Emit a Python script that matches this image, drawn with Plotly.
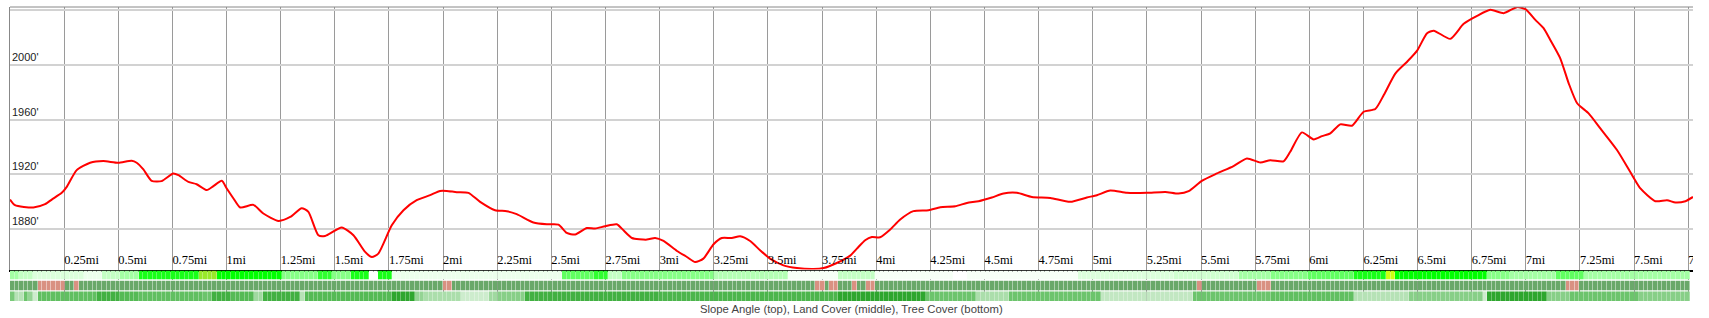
import numpy as np
import plotly.graph_objects as go

# ---------------- data ----------------
dist_mi = [0, 0.023, 0.108, 0.162, 0.193, 0.239, 0.262, 0.308, 0.370, 0.431,
           0.500, 0.562, 0.585, 0.616, 0.654, 0.700, 0.754, 0.778, 0.824, 0.862,
           0.909, 0.939, 0.978, 1.001, 1.032, 1.063, 1.124, 1.170, 1.240, 1.294,
           1.347, 1.378, 1.424, 1.455, 1.532, 1.586, 1.640, 1.671, 1.701, 1.763,
           1.817, 1.878, 1.940, 1.986, 2.017, 2.063, 2.117, 2.171, 2.240, 2.294,
           2.340, 2.417, 2.479, 2.533, 2.571, 2.610, 2.664, 2.702, 2.748, 2.802,
           2.833, 2.872, 2.941, 2.979, 3.018, 3.080, 3.126, 3.164, 3.202, 3.249,
           3.287, 3.333, 3.372, 3.418, 3.464, 3.510, 3.572, 3.634, 3.711, 3.757,
           3.818, 3.880, 3.911, 3.949, 3.980, 4.018, 4.065, 4.111, 4.172, 4.242,
           4.296, 4.365, 4.419, 4.473, 4.534, 4.588, 4.650, 4.719, 4.804, 4.896,
           4.973, 5.019, 5.081, 5.158, 5.250, 5.335, 5.396, 5.443, 5.504, 5.574,
           5.650, 5.712, 5.774, 5.820, 5.881, 5.912, 5.966, 6.020, 6.059, 6.097,
           6.143, 6.197, 6.251, 6.305, 6.344, 6.398, 6.452, 6.498, 6.544, 6.575,
           6.651, 6.713, 6.775, 6.836, 6.898, 6.959, 6.998, 7.044, 7.082, 7.113,
           7.159, 7.198, 7.237, 7.290, 7.344, 7.421, 7.491, 7.529, 7.598, 7.652,
           7.691, 7.737, 7.772]

elev_ft = [1901.5, 1897.4, 1895.7, 1898.1, 1901.5, 1906.4, 1910.8, 1923.0, 1928.4, 1929.6,
           1928.4, 1929.8, 1928.4, 1923.5, 1915.2, 1915.0, 1920.6, 1919.3, 1914.4, 1912.7,
           1908.4, 1911.3, 1915.2, 1909.6, 1902.3, 1895.7, 1897.6, 1891.3, 1885.9, 1888.8,
           1895.2, 1892.5, 1875.4, 1874.9, 1881.0, 1875.4, 1863.2, 1859.5, 1862.0, 1882.7,
           1893.7, 1901.0, 1904.7, 1907.8, 1907.8, 1906.9, 1906.4, 1899.8, 1893.7, 1893.0,
           1890.8, 1884.7, 1883.4, 1883.2, 1877.1, 1875.9, 1880.7, 1880.3, 1882.0, 1883.4,
           1879.0, 1873.4, 1872.2, 1873.4, 1871.2, 1863.9, 1859.5, 1855.8, 1858.3, 1868.8,
           1873.4, 1873.4, 1874.7, 1871.2, 1864.4, 1858.3, 1853.4, 1851.4, 1850.7, 1851.4,
           1855.1, 1860.5, 1865.6, 1871.7, 1874.1, 1873.9, 1879.6, 1886.9, 1893.0, 1893.7,
           1895.9, 1896.6, 1899.0, 1900.3, 1903.0, 1905.9, 1906.4, 1903.4, 1902.7, 1899.8,
           1903.0, 1904.7, 1908.1, 1906.4, 1906.4, 1907.1, 1905.9, 1907.6, 1915.2, 1920.6,
           1926.0, 1931.6, 1928.6, 1930.3, 1929.4, 1936.4, 1950.6, 1945.5, 1947.9, 1949.9,
           1956.5, 1955.5, 1965.7, 1967.7, 1977.9, 1993.8, 2002.3, 2010.4, 2023.1, 2025.0,
           2019.0, 2030.0, 2035.8, 2040.2, 2037.8, 2042.2, 2040.7, 2032.9, 2026.8, 2018.2,
           2004.8, 1986.5, 1971.9, 1964.5, 1953.5, 1937.7, 1919.3, 1909.6, 1900.3, 1901.0,
           1899.3, 1900.3, 1903.4]

x_tick_vals = [0.25, 0.5, 0.75, 1, 1.25, 1.5, 1.75, 2, 2.25, 2.5, 2.75, 3, 3.25, 3.5,
               3.75, 4, 4.25, 4.5, 4.75, 5, 5.25, 5.5, 5.75, 6, 6.25, 6.5, 6.75, 7,
               7.25, 7.5, 7.75]
x_tick_text = ["0.25mi", "0.5mi", "0.75mi", "1mi", "1.25mi", "1.5mi", "1.75mi", "2mi",
               "2.25mi", "2.5mi", "2.75mi", "3mi", "3.25mi", "3.5mi", "3.75mi", "4mi",
               "4.25mi", "4.5mi", "4.75mi", "5mi", "5.25mi", "5.5mi", "5.75mi", "6mi",
               "6.25mi", "6.5mi", "6.75mi", "7mi", "7.25mi", "7.5mi", "7.75mi"]
y_tick_vals = [1880, 1920, 1960, 2000]
y_tick_text = ["1880'", "1920'", "1960'", "2000'"]

# strips: run-length encoded cell values (level, number of cells)
slope_levels = [4, 3, 2, 1, 3, 4, 7.5, 9, 8, 5, 7, 5, 7.5, 0, 7.5, 1, 6, 7, 3, 5,
                3.5, 0.5, 3, 0.5, 0, 0.5, 2, 2.5, 4, 5, 6, 7.5, 10, 8, 5, 4, 6, 4]
slope_counts = [2, 3, 11, 4, 4, 4, 13, 4, 14, 8, 3, 4, 4, 2, 3, 37, 7, 3, 3, 20,
                16, 11, 8, 17, 3, 24, 21, 14, 7, 8, 10, 7, 2, 20, 5, 10, 6, 23]

land_levels = [0, 1, 0, 1, 0, 1, 0, 1, 0, 1, 0, 1, 0, 1, 0, 1, 0, 1, 0, 1, 0]
land_counts = [6, 6, 2, 1, 79, 2, 79, 2, 1, 2, 3, 1, 2, 2, 70, 1, 12, 3, 64, 3, 24]

tree_levels = [5.5, 3, 6, 4.5, 2, 6.5, 8, 7, 6.5, 6, 8, 7, 4, 8, 3, 7, 9, 4.5, 3.5, 2,
               4, 5, 8, 7.5, 9, 6, 3.5, 6, 2.5, 6, 6.5, 3, 5, 2, 9, 5, 6, 5]
tree_counts = [1, 2, 1, 1, 1, 13, 5, 4, 14, 2, 4, 5, 2, 8, 1, 19, 5, 2, 8, 6,
               2, 6, 29, 39, 19, 11, 7, 20, 20, 17, 18, 12, 16, 1, 13, 5, 15, 11]

strip_length_mi = 7.757

slope_z = np.repeat(slope_levels, slope_counts)
land_z = np.repeat(land_levels, land_counts)
tree_z = np.repeat(tree_levels, tree_counts)
n_cells = len(slope_z)
cell_mi = strip_length_mi / n_cells

slope_scale = [[0.0, "#ffffff"], [0.1, "#ecffec"], [0.2, "#dcffdc"], [0.3, "#c4ffc4"],
               [0.4, "#a4ffa4"], [0.5, "#86ff86"], [0.6, "#60ff60"], [0.7, "#30ff30"],
               [0.8, "#00ff00"], [0.9, "#99e82a"], [1.0, "#ccff11"]]
land_scale = [[0.0, "#6aa86a"], [1.0, "#d99182"]]
tree_scale = [[0.0, "#eef9ee"], [0.2, "#cdeccd"], [0.3, "#b6e2b6"], [0.4, "#a0d9a0"],
              [0.5, "#88cf88"], [0.6, "#6cc46c"], [0.7, "#55ba55"], [0.8, "#42b042"],
              [0.9, "#2ea62e"], [1.0, "#1e9e1e"]]

# ---------------- figure ----------------
W, H = 1709, 318
ML, MR, MT, MB = 10, 16.3, 7, 17.3
plot_h = H - MT - MB
def dom(top_px, bot_px):
    return [(H - MB - bot_px) / plot_h, (H - MB - top_px) / plot_h]

y_min, y_max = 1850.3, 2042.3
x_max = 7.772

fig = go.Figure()

fig.add_trace(go.Scatter(x=dist_mi, y=elev_ft, mode="lines",
                         line=dict(color="#ff0000", width=2, shape="spline", smoothing=0.6),
                         hoverinfo="skip", showlegend=False))

main_dom = dom(MT, 269.3)
label_y = y_min + (8.8 / (269.3 - MT)) * (y_max - y_min)
fig.add_trace(go.Scatter(x=x_tick_vals, y=[label_y] * len(x_tick_vals), mode="text",
                         text=x_tick_text, textposition="middle right",
                         textfont=dict(family="Liberation Serif", size=12.4, color="#000"),
                         cliponaxis=True, hoverinfo="skip", showlegend=False))

for z, cs, ya, zmax, gap in [(slope_z, slope_scale, "y2", 10, 0.3),
                             (land_z, land_scale, "y3", 1, 0.45),
                             (tree_z, tree_scale, "y4", 10, 0.3)]:
    fig.add_trace(go.Heatmap(z=[z], x0=cell_mi / 2, dx=cell_mi, y0=0, dy=1,
                             colorscale=cs, zmin=0, zmax=zmax, showscale=False,
                             xgap=gap, xaxis="x", yaxis=ya, hoverinfo="skip"))

for v, t in zip(y_tick_vals, y_tick_text):
    fig.add_annotation(x=0, xref="paper", y=v, yref="y", text=t, showarrow=False,
                       xanchor="left", yanchor="bottom", xshift=0, yshift=0,
                       font=dict(family="Liberation Sans", size=11, color="#222"))

fig.add_annotation(x=0.5, xref="paper", y=-(308.3 - (H - MB)) / plot_h, yref="paper",
                   text="Slope Angle (top), Land Cover (middle), Tree Cover (bottom)",
                   showarrow=False, xanchor="center", yanchor="middle",
                   font=dict(family="Liberation Sans", size=11.3, color="#444"))

fig.add_shape(type="line", xref="paper", yref="paper", x0=0, x1=1, y0=1, y1=1,
              line=dict(color="#888", width=1))

hidden = dict(showgrid=False, zeroline=False, showticklabels=False, showline=False,
              range=[-0.5, 0.5], fixedrange=True)
fig.update_layout(
    width=W, height=H, margin=dict(l=ML, r=MR, t=MT, b=MB, pad=0),
    paper_bgcolor="white", plot_bgcolor="white",
    xaxis=dict(range=[0, x_max], anchor="y", tickvals=x_tick_vals, showticklabels=False,
               ticks="", showgrid=True, gridcolor="#9a9a9a", gridwidth=1, zeroline=False,
               showline=True, linecolor="#000", linewidth=1.5),
    yaxis=dict(domain=main_dom, range=[y_min, y_max], dtick=40, tick0=0,
               showticklabels=False, ticks="", showgrid=True, gridcolor="#d2d2d2",
               gridwidth=1.5, zeroline=False, showline=True, linecolor="#888", linewidth=1),
    yaxis2=dict(domain=dom(270.3, 279.3), **hidden),
    yaxis3=dict(domain=dom(280.3, 290.3), **hidden),
    yaxis4=dict(domain=dom(291.0, 300.7), **hidden),
    showlegend=False,
)

fig.write_html("out.html")
